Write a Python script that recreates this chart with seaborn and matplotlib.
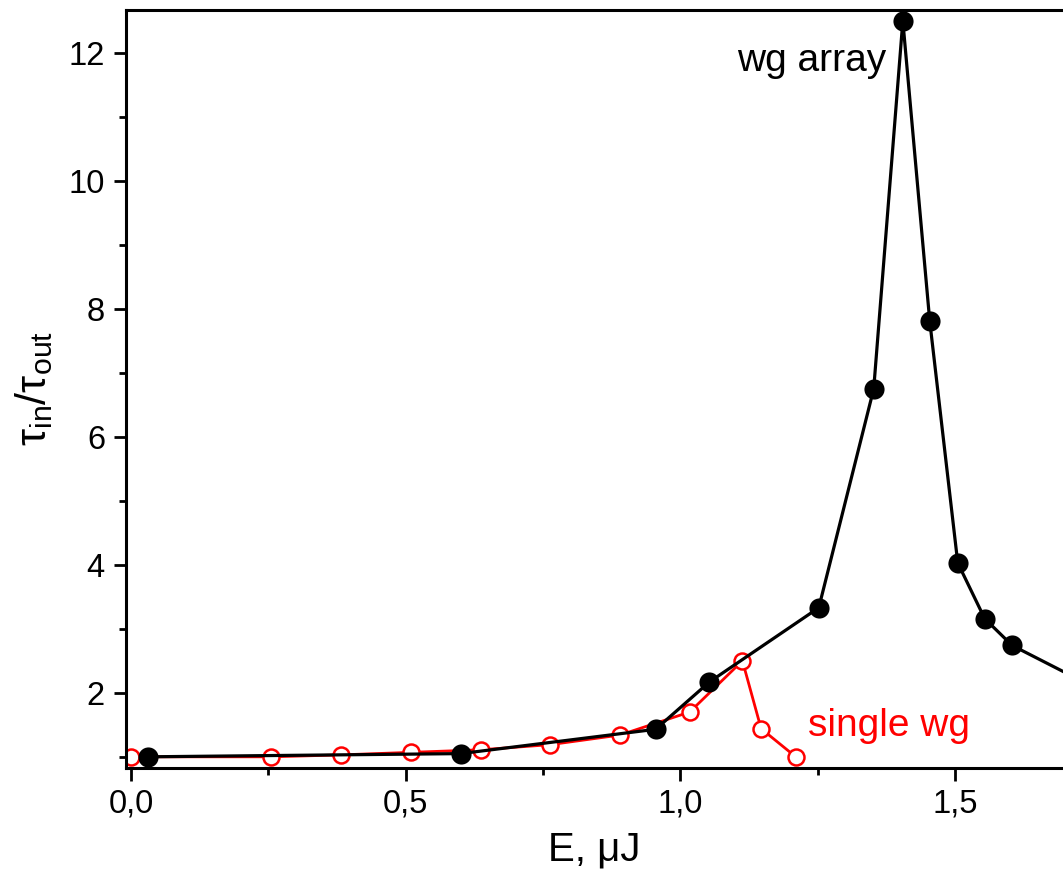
import numpy as np
import pandas as pd
import matplotlib
matplotlib.use("Agg")
import matplotlib.pyplot as plt
import seaborn as sns
from matplotlib.ticker import FixedLocator, FixedFormatter

# ---- data ----
array_E = [0.03, 0.60, 0.955, 1.053, 1.252, 1.352, 1.405, 1.454, 1.505, 1.554, 1.604, 1.75]
array_ratio = [1.00, 1.05, 1.43, 2.17, 3.33, 6.75, 12.50, 7.81, 4.03, 3.16, 2.74, 2.10]

single_E = [0.0, 0.255, 0.382, 0.51, 0.637, 0.763, 0.89, 1.017, 1.113, 1.147, 1.21]
single_ratio = [1.00, 1.00, 1.03, 1.07, 1.11, 1.19, 1.34, 1.70, 2.50, 1.44, 1.00]

x_ticks = [0.0, 0.5, 1.0, 1.5]
x_tick_labels = ["0,0", "0,5", "1,0", "1,5"]
x_minor = [0.25, 0.75, 1.25, 1.75]
y_ticks = [2, 4, 6, 8, 10, 12]
y_tick_labels = ["2", "4", "6", "8", "10", "12"]
y_minor = [1, 3, 5, 7, 9, 11]

sns.set_style("ticks")
plt.rcParams["font.family"] = ["Liberation Sans", "DejaVu Sans"]
plt.rcParams["mathtext.fontset"] = "custom"
plt.rcParams["mathtext.rm"] = "Liberation Sans"

fig = plt.figure(figsize=(10.63, 8.82), dpi=100)
ax = fig.add_axes([0.1183, 0.1296, 0.8817, 0.8591])

df_s = pd.DataFrame({"E": single_E, "r": single_ratio})
df_a = pd.DataFrame({"E": array_E, "r": array_ratio})

sns.lineplot(data=df_s, x="E", y="r", sort=False, ax=ax, color="#ff0000",
             linewidth=2.0, marker="o", markersize=11.5, markerfacecolor="white",
             markeredgecolor="#ff0000", markeredgewidth=1.8, zorder=2)
sns.lineplot(data=df_a, x="E", y="r", sort=False, ax=ax, color="black",
             linewidth=2.3, marker="o", markersize=14.5, markerfacecolor="black",
             markeredgecolor="black", markeredgewidth=0, zorder=3)

ax.set_xlim(-0.0097, 1.6966)
ax.set_ylim(0.83, 12.67)

ax.xaxis.set_major_locator(FixedLocator(x_ticks))
ax.xaxis.set_major_formatter(FixedFormatter(x_tick_labels))
ax.xaxis.set_minor_locator(FixedLocator(x_minor))
ax.yaxis.set_major_locator(FixedLocator(y_ticks))
ax.yaxis.set_major_formatter(FixedFormatter(y_tick_labels))
ax.yaxis.set_minor_locator(FixedLocator(y_minor))

ax.tick_params(axis="both", which="major", direction="out", length=9, width=2.0,
               labelsize=23.5, pad=6, colors="black")
ax.tick_params(axis="both", which="minor", direction="out", length=5, width=2.0,
               colors="black")
ax.tick_params(top=False, right=False, which="both")

for s in ["left", "bottom", "top"]:
    ax.spines[s].set_linewidth(2.2)
    ax.spines[s].set_color("black")
ax.spines["right"].set_visible(False)

ax.set_xlabel("E, μJ", fontsize=29, labelpad=8, color="black")
ax.set_ylabel(r"τ$_\mathregular{in}$/τ$_\mathregular{out}$", fontsize=31,
              labelpad=10, color="black")

ax.text(1.103, 11.71, "wg array", fontsize=28, color="black", ha="left", va="baseline")
ax.text(1.232, 1.32, "single wg", fontsize=28, color="#ff0000", ha="left", va="baseline")

fig.savefig("out.png", dpi=100)
